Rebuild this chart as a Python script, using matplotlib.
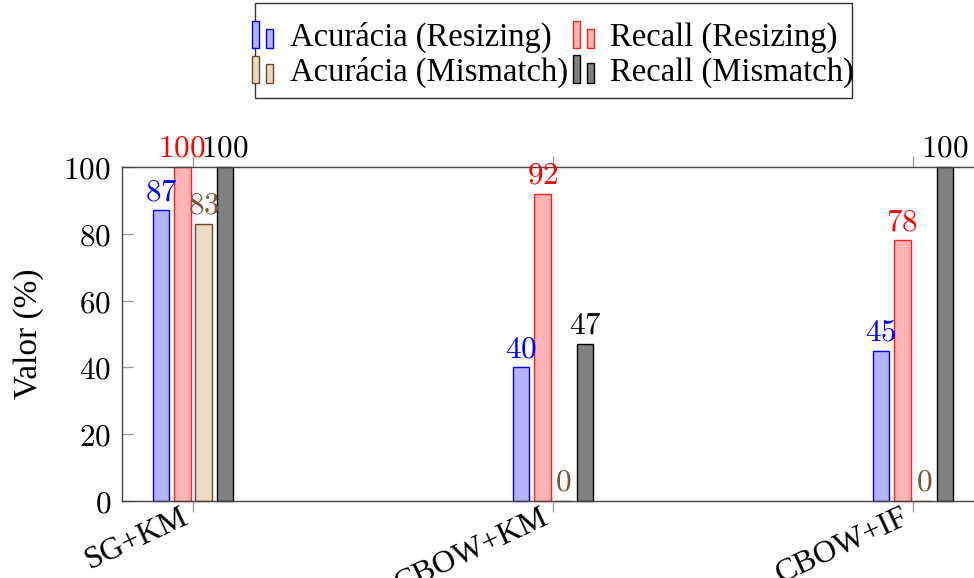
import matplotlib
matplotlib.use("Agg")
import matplotlib.pyplot as plt
from matplotlib.patches import Rectangle
from matplotlib.legend_handler import HandlerBase
import matplotlib.transforms as mtransforms
import numpy as np

categories = ["SG+KM", "CBOW+KM", "CBOW+IF"]
series_names = ["Acurácia (Resizing)", "Recall (Resizing)",
                "Acurácia (Mismatch)", "Recall (Mismatch)"]
acc_resizing = [87, 40, 45]
rec_resizing = [100, 92, 78]
acc_mismatch = [83, 0, 0]
rec_mismatch = [100, 47, 100]
y_ticks = [0, 20, 40, 60, 80, 100]
y_label = "Valor (%)"

plt.rcParams['mathtext.fontset'] = 'cm'
serif = ['Liberation Serif', 'DejaVu Serif']
FS_NUM = 22.5
FS_TXT = 24
FS_XT = 23
FS_LEG = 23.5

fills = ['#B3B3FF', '#FFB3B3', '#ECD9C6', '#808080']
edges = ['#0000FF', '#FF2020', '#6b4a2b', '#000000']
label_colors = ['#0000FF', '#FF0000', '#7a5533', '#000000']

W, H = 974, 578
fig = plt.figure(figsize=(W/100, H/100), dpi=100)
ax = fig.add_axes([122/W, 77/H, (980-122)/W, (501-167)/H])

x = np.arange(len(categories))
step = 0.0592
width = 0.0458
all_series = [acc_resizing, rec_resizing, acc_mismatch, rec_mismatch]
handles = []
for i, vals in enumerate(all_series):
    off = (i - 1.5) * step
    bars = ax.bar(x + off, vals, width, color=fills[i], edgecolor=edges[i],
                  linewidth=1.0, label=series_names[i], clip_on=False, zorder=2)
    handles.append(bars)
    for xi, v in zip(x + off, vals):
        ax.annotate(f"${v}$", (xi, v), xytext=(0, 3), textcoords='offset points',
                    ha='center', va='bottom', fontsize=FS_NUM, color=label_colors[i],
                    annotation_clip=False, zorder=3)

ax.set_xlim(-0.197, 2.186)
ax.set_ylim(0, 100)
ax.set_yticks(y_ticks)
ax.set_yticklabels([f"${t}$" for t in y_ticks], fontsize=FS_NUM)
ax.set_xticks(x)
ax.set_xticklabels([])
# rotated category labels, anchored just below each tick
lbl_trans = ax.get_xaxis_transform() + mtransforms.ScaledTranslation(
    -6/100, -15/100, fig.dpi_scale_trans)
for xi, c in zip(x, categories):
    ax.text(xi, 0, c, transform=lbl_trans, rotation=25, ha='right', va='center',
            rotation_mode='anchor', fontsize=FS_XT, family=serif, clip_on=False)
ax.tick_params(axis='y', direction='in', length=8, color='#999999', width=1,
               right=False, pad=8)
ax.tick_params(axis='x', direction='out', length=8, color='#999999', width=1,
               top=True, pad=3)
for s in ax.spines.values():
    s.set_color('#444444')
    s.set_linewidth(1.0)
ax.set_ylabel(y_label, fontsize=FS_TXT, family=serif, labelpad=14)


class TwoBarHandler(HandlerBase):
    def __init__(self, fc, ec):
        super().__init__()
        self.fc = fc
        self.ec = ec

    def create_artists(self, legend, orig_handle, xdescent, ydescent, width,
                       height, fontsize, trans):
        bw = width * 0.33
        h1 = height * 1.2
        h2 = height * 0.85
        y0 = -ydescent - height * 0.1
        r1 = Rectangle((-xdescent, y0), bw, h1, facecolor=self.fc,
                       edgecolor=self.ec, lw=1.0, transform=trans)
        r2 = Rectangle((-xdescent + width * 0.67, y0), bw, h2, facecolor=self.fc,
                       edgecolor=self.ec, lw=1.0, transform=trans)
        return [r1, r2]


order = [0, 2, 1, 3]
hmap = {h: TwoBarHandler(fills[i], edges[i]) for i, h in enumerate(handles)}
leg = fig.legend([handles[i] for i in order], [series_names[i] for i in order],
                 loc='center', bbox_to_anchor=(553/W, 1 - 55/H), ncol=2,
                 handler_map=hmap, prop={'family': serif, 'size': FS_LEG},
                 frameon=False, handlelength=0.65, handletextpad=0.5,
                 columnspacing=0.15, borderpad=0.0, labelspacing=0.12)
fig.patches.append(Rectangle((255/W, 1 - 98/H), (852-255)/W, 95/H,
                             transform=fig.transFigure, facecolor='none',
                             edgecolor='#333333', lw=1.0))

fig.savefig("out.png", dpi=100)
